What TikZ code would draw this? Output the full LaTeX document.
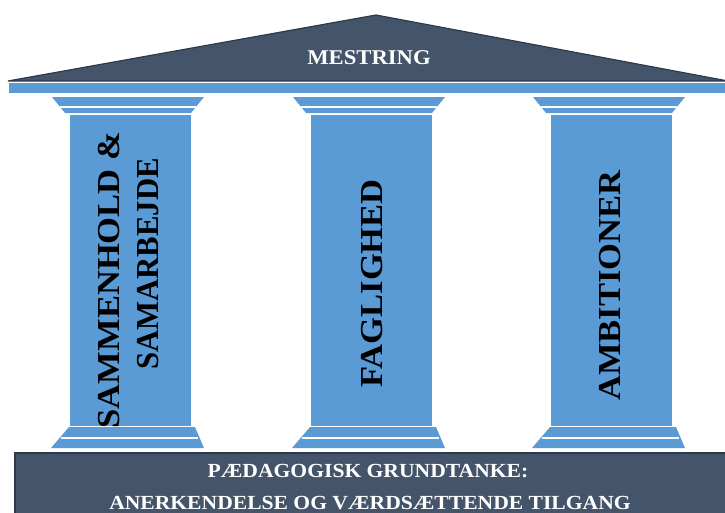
\documentclass[tikz,border=0pt]{standalone}
\usepackage{fontspec}
\setmainfont{Liberation Serif}[FakeStretch=1.08]
\usepackage{graphicx}
\usepackage{xcolor}
\definecolor{roofgray}{HTML}{44546A}
\definecolor{pillarblue}{HTML}{5B9BD5}
\definecolor{edgegray}{HTML}{2E3A4A}

\begin{document}
\begin{tikzpicture}[x=1pt,y=-1pt,font=\bfseries]
      \tikzstyle{stone}=[fill=pillarblue]
      \tikzstyle{slate}=[fill=roofgray,draw=edgegray,line width=1.2pt]
      \tikzstyle{groove}=[draw=white,line width=1.3pt]
      \tikzstyle{pillar text}=[rotate=90,inner sep=0,font=\fontsize{32}{36}\selectfont\bfseries]
      \tikzstyle{slate text}=[text=white,inner sep=0,anchor=base]
      \useasboundingbox (0,0) rectangle (725,512);
      % roof and beam
      \filldraw[slate] (8,81) -- (376,15) -- (728,81) -- cycle;
      \fill[stone] (9,83) rectangle (726,93);
      \node[slate text,font=\fontsize{21}{25}\selectfont\bfseries] (roof) at (369,64) {MESTRING};
      % the three pillars
      \foreach \x in {52,293,533}{
          \fill[stone] (\x,97) -- (\x+152,97) -- (\x+139,113) -- (\x+13,113) -- cycle;
          \draw[groove] (\x+8,107) -- (\x+144,107);
          \fill[stone] (\x+18,114.5) rectangle (\x+139,426);
          \fill[stone] (\x+17,427) -- (\x+143,427) -- (\x+152,448) -- (\x-1,448) -- cycle;
          \draw[groove] (\x+9,438) -- (\x+146,438);
      }
      \node[pillar text] (unity) at (109,280) {SAMMENHOLD \&};
      \node[pillar text] (teamwork) at (148,264) {\scalebox{0.89}[1]{SAMARBEJDE}};
      \node[pillar text] (skill) at (372.5,283.5) {FAGLIGHED};
      \node[pillar text] (ambition) at (610,285.5) {AMBITIONER};
      % foundation
      \filldraw[slate] (15,453) rectangle (728,530);
      \node[slate text,font=\fontsize{20}{24}\selectfont\bfseries] (idea) at (368,477) {PÆDAGOGISK GRUNDTANKE:};
      \node[slate text,font=\fontsize{20}{24}\selectfont\bfseries] (respect) at (370,509) {ANERKENDELSE OG VÆRDSÆTTENDE TILGANG};
\end{tikzpicture}
\end{document}
